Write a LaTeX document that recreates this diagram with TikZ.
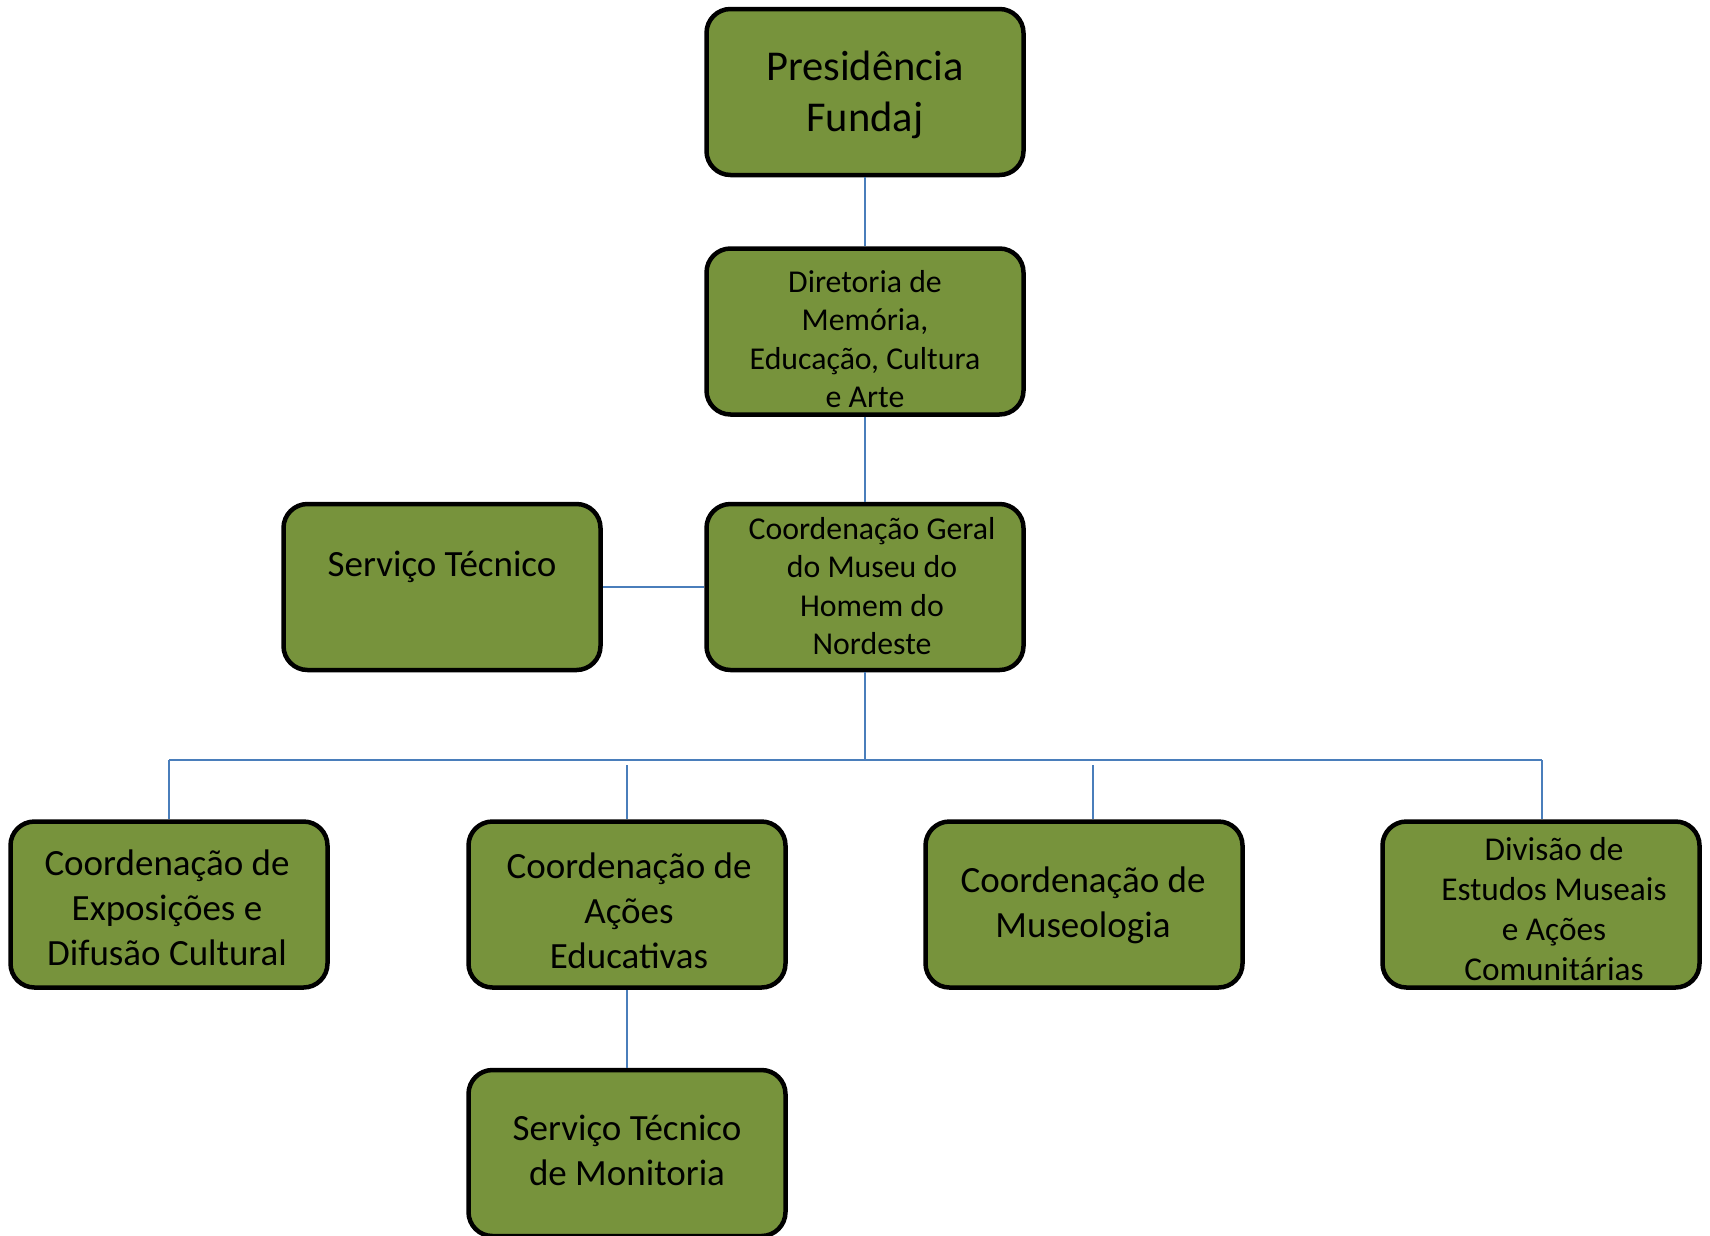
\documentclass[tikz,border=0pt]{standalone}
\usepackage{fontspec}
\setmainfont{Carlito}
\definecolor{boxgreen}{HTML}{77933C}
\definecolor{linkblue}{HTML}{4A7EBB}
\begin{document}
\begin{tikzpicture}[x=1pt,y=-1pt,
  orgbox/.style={draw=black, line width=4.5pt, fill=boxgreen, rounded corners=24pt,
    minimum width=317pt, minimum height=166pt, inner sep=0pt},
  lbl/.style={align=center, text=black, inner sep=0pt},
  big/.style={font=\fontsize{42.5}{51}\selectfont},
  mid/.style={font=\fontsize{37}{45}\selectfont},
  midsmall/.style={font=\fontsize{33.3}{40}\selectfont},
  small/.style={font=\fontsize{31.8}{38.5}\selectfont},
  link/.style={draw=linkblue, line width=2pt}]
\useasboundingbox (0,0) rectangle (1710,1235);

% boxes
\node[orgbox] (pres)  at (865,92)    {};
\node[orgbox] (dir)   at (865,331.5) {};
\node[orgbox] (coord) at (865,587)   {};
\node[orgbox] (st)    at (442,587)   {};
\node[orgbox] (b1)    at (169,904.5) {};
\node[orgbox] (b2)    at (627,904.5) {};
\node[orgbox] (b3)    at (1084,904.5){};
\node[orgbox] (b4)    at (1541,904.5){};
\node[orgbox] (mon)   at (627,1153)  {};

% labels
\node[lbl,big]      (presT)  at (865,95)   {Presidência\\Fundaj};
\node[lbl,small]    (dirT)   at (865,339)  {Diretoria de\\Memória,\\Educação, Cultura\\e Arte};
\node[lbl,small]    (coordT) at (872,586)  {Coordenação Geral\\do Museu do\\Homem do\\Nordeste};
\node[lbl,mid]      (stT)    at (442,567)  {Serviço Técnico};
\node[lbl,mid]      (b1T)    at (167,908)  {Coordenação de\\Exposições e\\Difusão Cultural};
\node[lbl,mid]      (b2T)    at (629,911)  {Coordenação de\\Ações\\Educativas};
\node[lbl,mid]      (b3T)    at (1083,905) {Coordenação de\\Museologia};
\node[lbl,midsmall] (b4T)    at (1554,909) {Divisão de\\Estudos Museais\\e Ações\\Comunitárias};
\node[lbl,mid]      (monT)   at (627,1150) {Serviço Técnico\\de Monitoria};

% connectors
\coordinate (busC) at (865,760);
\coordinate (busL) at (169,760);
\coordinate (busR) at (1542,760);
\coordinate (d2) at (627,765);
\coordinate (d3) at (1093,765);

\draw[link] (pres.south) -- (dir.north);
\draw[link] (dir.south) -- (coord.north);
\draw[link] (st.east) -- (coord.west);
\draw[link] (coord.south) -- (busC);
\draw[link] (busL) -- (busR);
\draw[link] (busL) -- (b1.north);
\draw[link] (d2) -- (b2.north);
\draw[link] (d3) -- (d3 |- b3.north);
\draw[link] (busR) -- (busR |- b4.north);
\draw[link] (b2.south) -- (mon.north);
\end{tikzpicture}
\end{document}
